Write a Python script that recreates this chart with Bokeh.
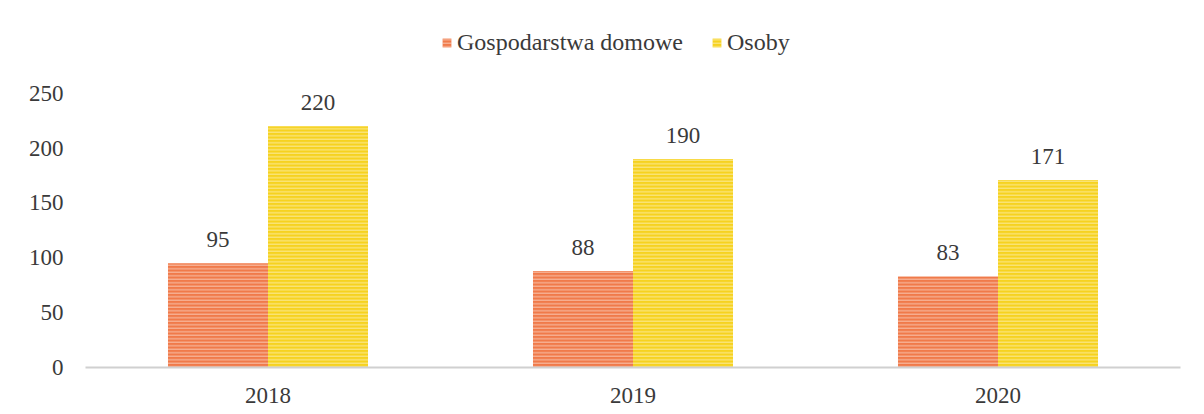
from bokeh.plotting import figure
from bokeh.models import ColumnDataSource, Legend, LegendItem, Range1d
from bokeh.transform import dodge
from bokeh.embed import file_html
from bokeh.resources import INLINE

years = ["2018", "2019", "2020"]
gospodarstwa = [95, 88, 83]
osoby = [220, 190, 171]
series_names = ["Gospodarstwa domowe", "Osoby"]
y_ticks = [0, 50, 100, 150, 200, 250]

FONT = "Liberation Serif"
ORANGE = "#F07A4A"
YELLOW = "#F6D21F"
TXT = "#3a3a3a"

src = ColumnDataSource(dict(years=years, g=gospodarstwa, o=osoby,
                            gl=[str(v) for v in gospodarstwa],
                            ol=[str(v) for v in osoby]))

p = figure(x_range=years, y_range=Range1d(0, 310), width=1196, height=414,
           output_backend="svg", toolbar_location=None,
           min_border_left=85, min_border_right=16, min_border_top=27, min_border_bottom=47)
p.outline_line_color = None
p.xgrid.grid_line_color = None
p.ygrid.grid_line_color = None
p.x_range.range_padding = 0

bw = 0.274
r1 = p.vbar(x=dodge("years", -bw / 2, range=p.x_range), top="g", width=bw, source=src,
            fill_color=ORANGE, line_color=None,
            hatch_pattern="horizontal_line", hatch_color="white", hatch_alpha=0.55,
            hatch_scale=3.5, hatch_weight=1)
r2 = p.vbar(x=dodge("years", bw / 2, range=p.x_range), top="o", width=bw, source=src,
            fill_color=YELLOW, line_color=None,
            hatch_pattern="horizontal_line", hatch_color="white", hatch_alpha=0.55,
            hatch_scale=3.5, hatch_weight=1)

for col, lab, off in [("g", "gl", -bw / 2), ("o", "ol", bw / 2)]:
    p.text(x=dodge("years", off, range=p.x_range), y=col, text=lab, source=src,
           text_align="center", text_baseline="bottom", y_offset=-16,
           text_font_size="23px", text_color=TXT, text_font={"value": FONT})

p.yaxis.ticker = y_ticks
p.yaxis.axis_line_color = None
p.yaxis.major_tick_line_color = None
p.yaxis.minor_tick_line_color = None
p.yaxis.major_label_text_font = FONT
p.yaxis.major_label_text_font_size = "23px"
p.yaxis.major_label_text_color = TXT
p.yaxis.major_label_standoff = 16

p.xaxis.axis_line_color = "#d0d0d0"
p.xaxis.axis_line_width = 2
p.xaxis.major_tick_line_color = None
p.xaxis.minor_tick_line_color = None
p.xaxis.major_label_text_font = FONT
p.xaxis.major_label_text_font_size = "23px"
p.xaxis.major_label_text_color = TXT
p.xaxis.major_label_standoff = 14

legend = Legend(items=[LegendItem(label=series_names[0], renderers=[r1]),
                       LegendItem(label=series_names[1], renderers=[r2])],
                orientation="horizontal", location=(356, 311),
                label_text_font=FONT, label_text_font_size="24px",
                label_text_color=TXT, glyph_width=11, glyph_height=11,
                spacing=28, label_standoff=5, padding=0, margin=0,
                border_line_color=None, background_fill_alpha=0)
p.add_layout(legend, "center")

open("out.html", "w").write(file_html(p, INLINE))
